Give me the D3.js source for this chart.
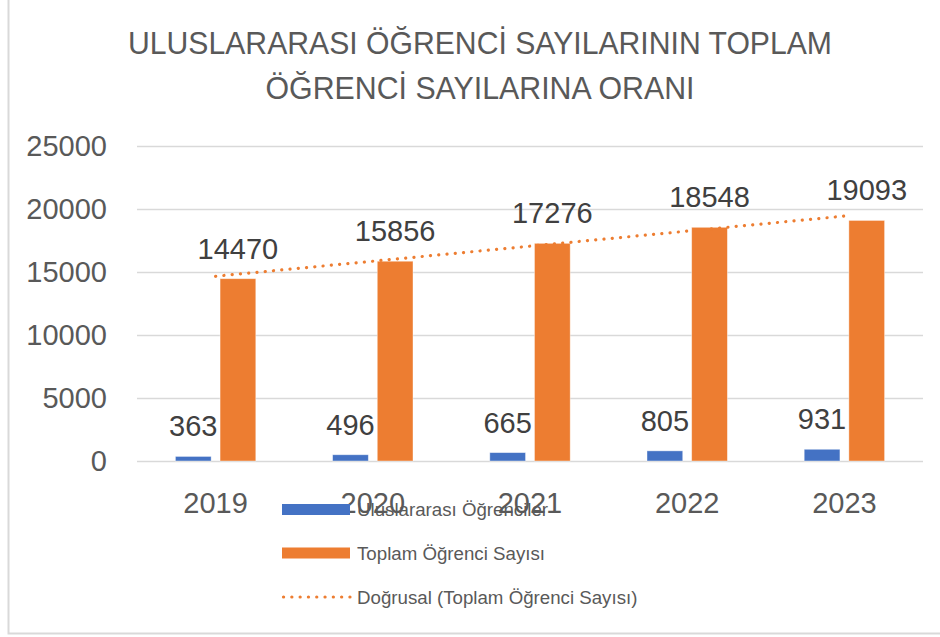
<!DOCTYPE html>
<html>
<head>
<meta charset="utf-8">
<script src="https://cdn.jsdelivr.net/npm/d3@7"></script>
<style>
  body { margin: 0; background: #fff; }
  #chart svg { display: block; }
</style>
</head>
<body>
<div id="chart"></div>
<script>
// chart data
var years = ["2019", "2020", "2021", "2022", "2023"];
var intlStudents = [363, 496, 665, 805, 931];
var totalStudents = [14470, 15856, 17276, 18548, 19093];
var yTicks = [0, 5000, 10000, 15000, 20000, 25000];
var titleLines = ["ULUSLARARASI ÖĞRENCİ SAYILARININ TOPLAM", "ÖĞRENCİ SAYILARINA ORANI"];
var seriesNames = ["Uluslararası Öğrenciler", "Toplam Öğrenci Sayısı", "Doğrusal (Toplam Öğrenci Sayısı)"];

var blue = "#4472C4", orange = "#ED7D31";
var font = "'Liberation Sans', Arial, sans-serif";

function drawChart() {
  d3.select("#chart").select("svg").remove();

  var W = 940, H = 637;
  var margin = { top: 146, right: 17, bottom: 176, left: 137 },
    width = W - margin.left - margin.right,
    height = H - margin.top - margin.bottom;

  var root = d3.select("#chart").append("svg")
    .attr("width", W)
    .attr("height", H);

  // chart area border (cropped on top / right in the original)
  root.append("rect")
    .attr("x", 8.5).attr("y", -10)
    .attr("width", W + 20).attr("height", 643.5)
    .attr("fill", "none")
    .attr("stroke", "#d9d9d9")
    .attr("stroke-width", 2);

  // title
  root.append("g").selectAll("text")
    .data(titleLines)
    .enter().append("text")
    .attr("x", 480)
    .attr("y", (d, i) => 53.5 + i * 45)
    .attr("text-anchor", "middle")
    .attr("font-family", font)
    .attr("font-size", 30.5)
    .attr("fill", "#595959")
    .attr("textLength", (d, i) => i === 0 ? 704 : 429)
    .attr("lengthAdjust", "spacingAndGlyphs")
    .text(d => d);

  var svg = root.append("g")
    .attr("transform", "translate(" + margin.left + "," + margin.top + ")");

  var x = d3.scaleBand().domain(years).range([0, width]).padding(0);
  var y = d3.scaleLinear().domain([0, 25000]).range([height, 0]);

  var keys = ["intl", "total"];
  var half = 40.2;
  var x1 = d3.scaleBand().domain(keys)
    .range([x.bandwidth() / 2 - half, x.bandwidth() / 2 + half])
    .paddingInner(0.2);

  // gridlines
  svg.append("g")
    .call(d3.axisLeft(y).tickValues(yTicks).tickSize(-width).tickFormat(""))
    .call(g => g.select(".domain").remove())
    .call(g => g.selectAll("line").attr("stroke", "#d9d9d9").attr("stroke-width", 1.3));

  // y labels
  svg.append("g").selectAll("text")
    .data(yTicks)
    .enter().append("text")
    .attr("x", -30)
    .attr("y", d => y(d))
    .attr("dy", "0.36em")
    .attr("text-anchor", "end")
    .attr("font-family", font)
    .attr("font-size", 29)
    .attr("fill", "#595959")
    .text(d => d);

  // x labels
  svg.append("g").selectAll("text")
    .data(years)
    .enter().append("text")
    .attr("x", d => x(d) + x.bandwidth() / 2)
    .attr("y", height + 52)
    .attr("text-anchor", "middle")
    .attr("font-family", font)
    .attr("font-size", 29)
    .attr("fill", "#595959")
    .text(d => d);

  var rows = years.map((yr, i) => ({ year: yr, intl: intlStudents[i], total: totalStudents[i] }));
  var color = { intl: blue, total: orange };

  // bars
  var groups = svg.append("g").selectAll("g")
    .data(rows)
    .enter().append("g")
    .attr("transform", d => "translate(" + x(d.year) + ",0)");

  groups.selectAll("rect")
    .data(d => keys.map(k => ({ key: k, value: d[k] })))
    .enter().append("rect")
    .attr("x", d => x1(d.key))
    .attr("y", d => y(d.value))
    .attr("width", x1.bandwidth())
    .attr("height", d => y(0) - y(d.value))
    .attr("fill", d => color[d.key])
    .attr("stroke", "#fff")
    .attr("stroke-opacity", 0.5)
    .attr("stroke-width", 0.8);

  // data labels
  groups.selectAll("text")
    .data(d => keys.map(k => ({ key: k, value: d[k] })))
    .enter().append("text")
    .attr("x", d => x1(d.key) + x1.bandwidth() / 2)
    .attr("y", d => y(d.value) - 20)
    .attr("text-anchor", "middle")
    .attr("font-family", font)
    .attr("font-size", 29)
    .attr("fill", "#404040")
    .text(d => d.value);

  // linear trendline of totals (least squares)
  var n = totalStudents.length;
  var xm = (n + 1) / 2;
  var ym = d3.mean(totalStudents);
  var slope = d3.sum(totalStudents, (v, i) => (i + 1 - xm) * (v - ym)) / d3.sum(totalStudents, (v, i) => (i + 1 - xm) * (i + 1 - xm));
  var trend = [1, n].map(k => ({ year: years[k - 1], v: ym + slope * (k - xm) }));

  svg.append("path")
    .datum(trend)
    .attr("fill", "none")
    .attr("stroke", orange)
    .attr("stroke-width", 3.2)
    .attr("stroke-linecap", "round")
    .attr("stroke-dasharray", "0.1 8.2")
    .attr("d", d3.line().x(d => x(d.year) + x.bandwidth() / 2).y(d => y(d.v)));

  // legend
  var legend = root.append("g").attr("transform", "translate(282,0)");
  var rowY = [509.5, 553, 597];
  seriesNames.forEach(function (name, i) {
    if (i < 2) {
      legend.append("rect")
        .attr("x", 0).attr("y", rowY[i] - 5.5)
        .attr("width", 68).attr("height", 11)
        .attr("fill", i === 0 ? blue : orange);
    } else {
      legend.append("line")
        .attr("x1", 1.5).attr("x2", 68)
        .attr("y1", rowY[i]).attr("y2", rowY[i])
        .attr("stroke", orange)
        .attr("stroke-width", 3.2)
        .attr("stroke-linecap", "round")
        .attr("stroke-dasharray", "0.1 8.2");
    }
    legend.append("text")
      .attr("x", 75)
      .attr("y", rowY[i])
      .attr("dy", "0.35em")
      .attr("font-family", font)
      .attr("font-size", 18.7)
      .attr("fill", "#595959")
      .text(name);
  });
}

drawChart();
</script>
</body>
</html>
